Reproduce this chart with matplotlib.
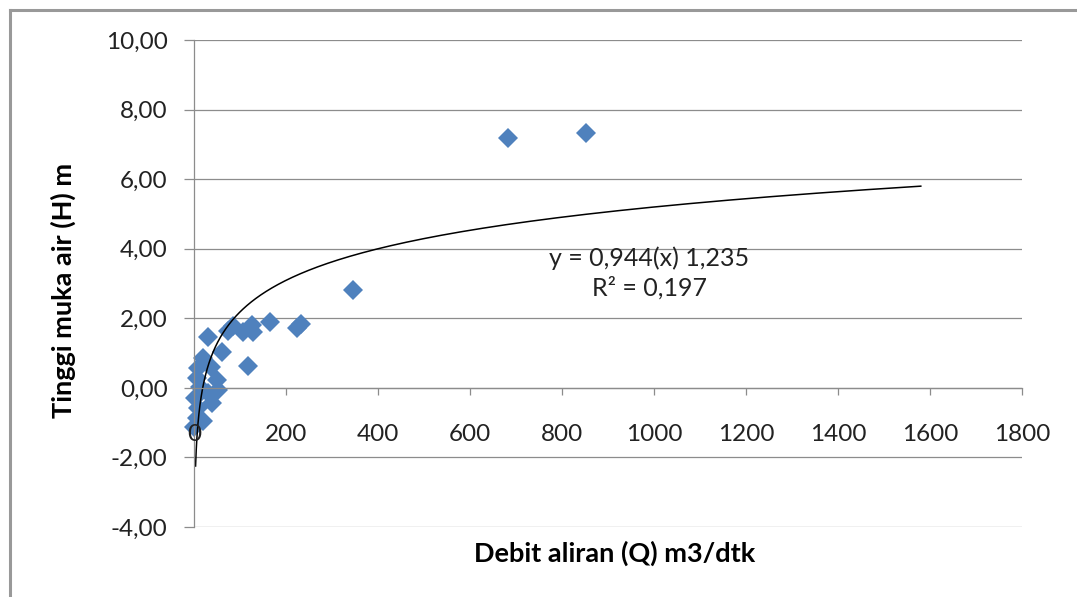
import numpy as np
import matplotlib
matplotlib.use("Agg")
import matplotlib.pyplot as plt
from matplotlib.lines import Line2D
from matplotlib.ticker import FuncFormatter

plt.rcParams['font.family'] = ['Lato', 'DejaVu Sans']

# Debit (Q, m3/dtk) vs tinggi muka air (H, m)
Q = [852, 683, 346, 233, 224, 165, 126, 128, 107, 85, 74, 117, 61, 30,
     20, 9, 38, 6, 50, 13, 2, 30, 9, 6, 1, 20, 39, 52]
H = [7.32, 7.17, 2.80, 1.84, 1.71, 1.88, 1.82, 1.60, 1.62, 1.78, 1.64, 0.63,
     1.02, 1.46, 0.86, 0.57, 0.60, 0.29, 0.22, 0.02, -0.29, -0.14, -0.57,
     -0.86, -1.12, -0.95, -0.43, -0.05]

# logarithmic trendline as drawn (H = a ln Q + b)
trend_a = 1.31
trend_b = -3.85
trend_q = [3.4, 1580]

x_ticks = [0, 200, 400, 600, 800, 1000, 1200, 1400, 1600, 1800]
y_ticks = [-4, -2, 0, 2, 4, 6, 8, 10]

grey = '#8c8c8c'

fig = plt.figure(figsize=(10.77, 5.97), dpi=100)
ax = fig.add_axes([194 / 1077, 1 - 527 / 597, (1022 - 194) / 1077, (527 - 40) / 597])
ax.set_axisbelow(False)  # tick labels on top of the markers, like the original

# horizontal gridlines
for yv in y_ticks:
    ax.axhline(yv, color=grey, lw=0.9, zorder=1)

qq = np.geomspace(trend_q[0], trend_q[1], 400)
ax.plot(qq, trend_a * np.log(qq) + trend_b, color='black', lw=1.1, zorder=2.4)

ax.plot(Q, H, linestyle='none', marker='D', ms=10, color='#4F81BD',
        markeredgewidth=0, zorder=2.2, clip_on=False)

ax.set_xlim(0, 1800)
ax.set_ylim(-4, 10)
ax.set_xticks(x_ticks)
ax.set_yticks(y_ticks)
ax.yaxis.set_major_formatter(FuncFormatter(lambda v, p: f"{v:.2f}".replace('.', ',')))

for s in ['top', 'right']:
    ax.spines[s].set_visible(False)
ax.spines['left'].set_position(('data', 0))
ax.spines['bottom'].set_position(('data', 0))
for s in ['left', 'bottom']:
    ax.spines[s].set_color(grey)
    ax.spines[s].set_linewidth(0.9)

ax.tick_params(axis='x', direction='out', length=5, width=0.9, color=grey,
               pad=21, labelsize=17.5, labelcolor='#222222')
ax.tick_params(axis='y', direction='out', length=7, width=0.9, color=grey,
               pad=12, labelsize=17.5, labelcolor='#222222')

fig.text(0.571, 1 - 553 / 597, 'Debit aliran (Q) m3/dtk', ha='center', va='center',
         fontsize=19.5, fontweight='bold')
fig.text(63 / 1077, 1 - 290 / 597, 'Tinggi muka air (H) m', ha='center', va='center',
         fontsize=19.5, fontweight='bold', rotation=90)

ax.text(990, 3.74, 'y = 0,944(x) 1,235', ha='center', va='center', fontsize=18,
        color='#222222')
ax.text(990, 2.87, 'R² = 0,197', ha='center', va='center', fontsize=18,
        color='#222222')

# outer chart frame (only left and top edges are visible)
fig.add_artist(Line2D([10 / 1077, 10 / 1077], [0, 1 - 10 / 597], color='#999999', lw=2.2))
fig.add_artist(Line2D([10 / 1077, 1], [1 - 10 / 597, 1 - 10 / 597], color='#999999', lw=2.2))

fig.savefig('out.png', dpi=100)
